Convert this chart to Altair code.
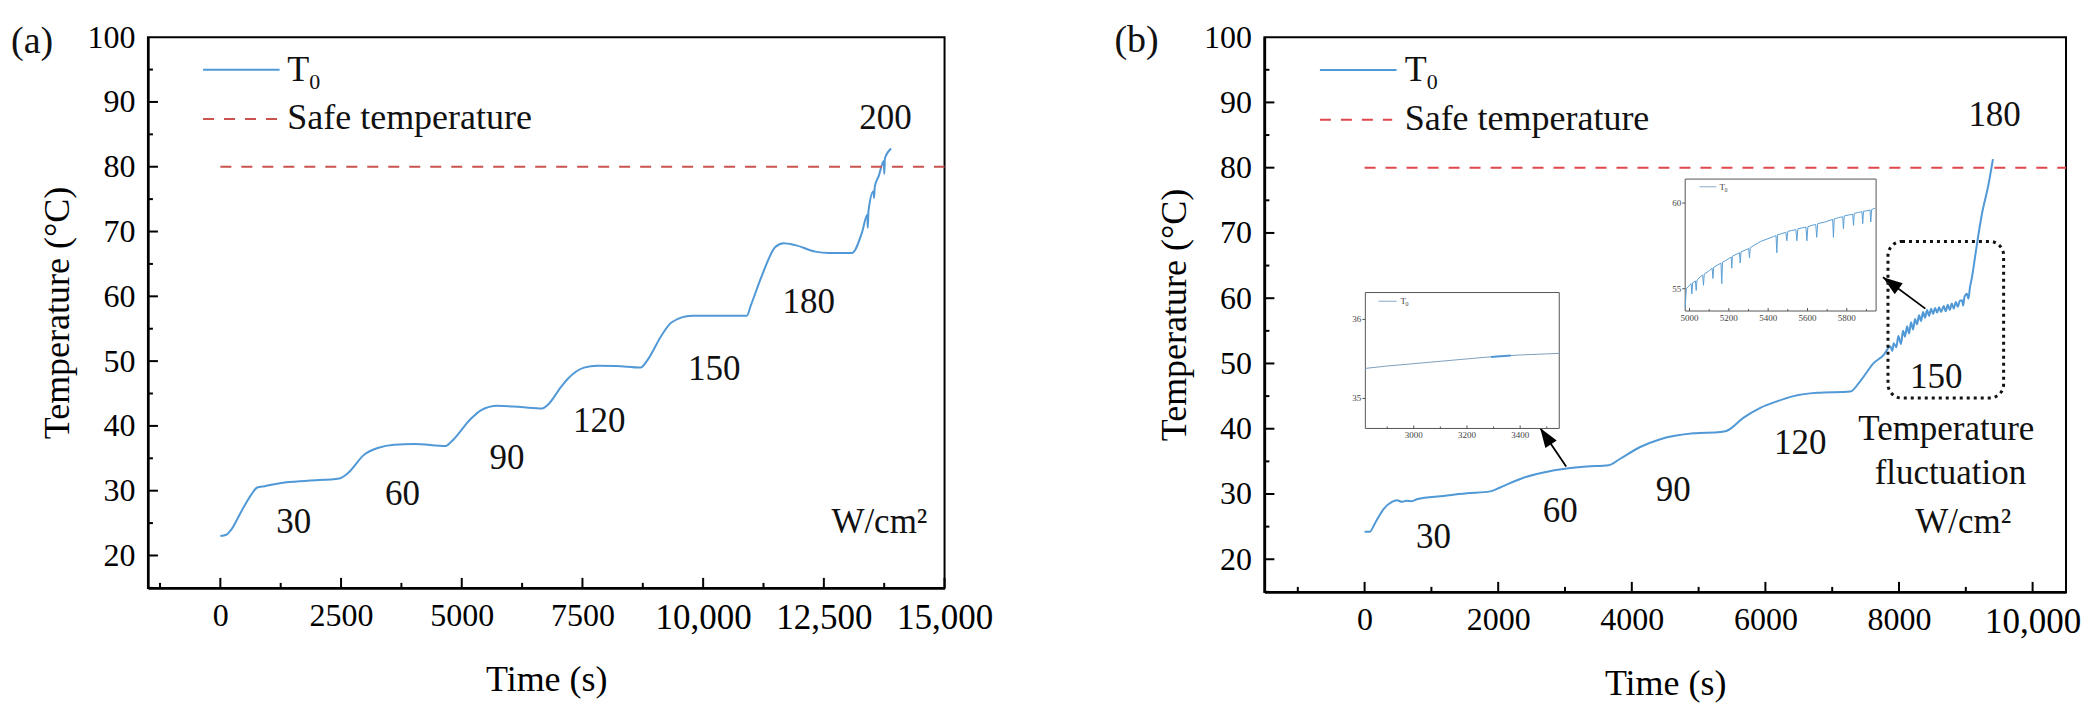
import altair as alt
import pandas as pd

SERIF = "Liberation Serif"
BLUE = "#5199d6"
RED_A = "#c9534f"
RED_B = "#e0474c"

# ---------------- panel (a) data ----------------
a_time = [0, 124, 227, 434, 641, 765, 917, 1261, 1813, 2467, 2640, 2984, 3260, 3604,
          4018, 4673, 4776, 5190, 5396, 5741, 6223, 6671, 6775, 7065, 7188, 7532, 7808,
          8200, 8704, 8850, 9141, 9349, 9764, 10300, 10906, 10988, 11217, 11494, 11667,
          11908, 12323, 12600, 13084, 13292, 13400, 13410, 13425, 13530, 13540, 13555,
          13638, 13742, 13752, 13765, 13894]
a_temp = [23.0, 23.2, 24.0, 26.8, 29.4, 30.5, 30.7, 31.2, 31.55, 31.9, 32.7, 35.6, 36.6, 37.1,
          37.2, 36.9, 37.5, 41.1, 42.4, 43.1, 42.9, 42.7, 43.2, 46.1, 47.2, 49.0, 49.3,
          49.25, 49.0, 50.2, 54.0, 56.0, 57.0, 57.0, 57.0, 58.6, 63.2, 67.6, 68.2,
          67.9, 66.9, 66.7, 66.7, 69.9, 72.6, 70.6, 73.2, 76.2, 75.2, 76.9,
          78.6, 80.9, 78.9, 81.3, 82.8]

a_ann_text = ["30", "60", "90", "120", "150", "180", "200", "W/cm²"]
a_ann_x = [1520, 3773, 5936, 7847, 10231, 12185, 13776, 13650]
a_ann_y = [25.2, 29.5, 35.1, 40.8, 48.8, 59.2, 87.5, 25.2]

a_xmajor = [0, 2500, 5000, 7500, 10000, 12500, 15000]
a_xminor = [-1250, 1250, 3750, 6250, 8750, 11250, 13750]

# ---------------- panel (b) data ----------------
b_time = [0, 75, 160, 284, 409, 484, 559, 620, 708, 783, 1182, 1531, 1880, 2030, 2379, 2678,
          3027, 3327, 3651, 3826, 4125, 4427, 4925, 5325, 5425, 5674, 5924, 6173, 6423, 6772,
          7271, 7421, 7620, 7770, 7870, 7900, 7920, 7960, 7990, 8030, 8060, 8090, 8120, 8150,
          8180, 8210, 8240, 8270, 8300, 8330, 8360, 8390, 8420, 8450, 8480, 8510, 8540, 8570,
          8600, 8630, 8668, 8700, 8730, 8760, 8790, 8820, 8850, 8880, 8910, 8943, 8960, 8980,
          9017, 9040, 9060, 9092, 9167, 9241, 9341, 9406]
b_temp = [24.2, 24.2, 25.6, 27.7, 28.8, 29.05, 28.8, 28.95, 28.9, 29.2, 29.7, 30.1, 30.4, 31.0, 32.5, 33.3,
          33.9, 34.2, 34.4, 35.4, 37.2, 38.4, 39.3, 39.5, 39.7, 41.7, 43.2, 44.2, 45.0, 45.5,
          45.7, 47.3, 50.05, 51.3, 52.6, 51.9, 53.1, 52.5, 54.2, 53.0, 55.0, 54.1, 55.7, 54.6,
          56.3, 55.2, 56.8, 56.0, 57.4, 56.5, 57.9, 57.0, 58.2, 57.3, 58.4, 57.6, 58.5, 57.8,
          58.6, 57.9, 58.8, 58.0, 59.0, 58.2, 59.2, 58.4, 59.4, 58.7, 59.6, 59.7, 58.9, 60.2,
          60.7, 59.9, 61.5, 63.2, 68.3, 72.9, 77.5, 81.3]

b_ann_text = ["30", "60", "90", "120", "150", "180", "Temperature", "fluctuation", "W/cm²"]
b_ann_x = [1032, 2928, 4620, 6520, 8558, 9431, 8708, 8770, 8963]
b_ann_y = [23.4, 27.4, 30.6, 37.8, 48.0, 88.1, 39.9, 33.2, 25.7]

b_xmajor = [0, 2000, 4000, 6000, 8000, 10000]
b_xminor = [-1000, 1000, 3000, 5000, 7000, 9000]

# arrows (tail -> head) in panel (b) data coordinates
arr_x = [3017, 8394]
arr_y = [34.2, 58.4]
arr_x2 = [2628, 7760]
arr_y2 = [40.1, 63.2]
arr_angle = [326, 306]

# dotted box around the fluctuation region
box_x = [7835]
box_x2 = [9566]
box_y = [44.7]
box_y2 = [68.7]

# ---------------- inset 1 ----------------
i1_time = [2818, 2900, 3000, 3100, 3200, 3300, 3400, 3547]
i1_temp = [35.38, 35.41, 35.44, 35.47, 35.50, 35.53, 35.55, 35.57]
i1_hl_time = [3290, 3365]
i1_hl_temp = [35.525, 35.542]
i1_xdom = [2818, 3547]
i1_ydom = [34.62, 36.34]
i1_xmajor = [3000, 3200, 3400]
i1_xminor = [2900, 3100, 3300, 3500]
i1_ylab = [36, 35]

# ---------------- inset 2 ----------------
i2_time = [4978, 4981, 4984, 5000, 5008, 5012, 5016, 5030, 5034, 5038, 5042, 5060, 5067, 5071, 5075,
           5100, 5115, 5119, 5123, 5145, 5160, 5164, 5168, 5185, 5205, 5212, 5215, 5218, 5245,
           5254, 5258, 5262, 5292, 5301, 5305, 5309, 5360, 5428, 5440, 5444, 5448, 5465, 5490,
           5495, 5500, 5520, 5541, 5546, 5551, 5572, 5592, 5597, 5602, 5622, 5642, 5647, 5652,
           5690, 5715, 5728, 5732, 5736, 5758, 5779, 5783, 5787, 5808, 5830, 5834, 5838, 5859,
           5877, 5881, 5885, 5902, 5918, 5922, 5926, 5944]
i2_temp = [53.9, 54.5, 55.0, 55.2, 55.3, 54.7, 55.35, 55.45, 54.9, 55.5, 55.55, 55.75, 55.8, 55.2, 55.85,
           56.05, 56.2, 55.6, 56.25, 56.4, 56.5, 55.3, 56.55, 56.65, 56.8, 56.85, 56.2, 56.9, 57.05,
           57.1, 56.5, 57.15, 57.3, 57.35, 56.8, 57.4, 57.75, 58.05, 58.1, 57.1, 58.15, 58.2, 58.3,
           57.8, 58.35, 58.4, 58.45, 57.8, 58.5, 58.55, 58.6, 57.8, 58.62, 58.7, 58.75, 58.0, 58.8,
           58.9, 59.0, 59.05, 58.0, 59.08, 59.15, 59.2, 58.5, 59.25, 59.3, 59.35, 58.7, 59.4, 59.45,
           59.5, 58.8, 59.52, 59.55, 59.6, 58.9, 59.62, 59.7]
i2_xdom = [4978, 5949]
i2_ydom = [53.7, 61.4]
i2_xmajor = [5000, 5200, 5400, 5600, 5800]
i2_xminor = [5100, 5300, 5500, 5700, 5900]
i2_ylab = [60, 55]

y_major = [20, 30, 40, 50, 60, 70, 80, 90]
y_minor = [15, 25, 35, 45, 55, 65, 75, 85, 95]
y_labels = [20, 30, 40, 50, 60, 70, 80, 90, 100]

assert len(a_time) == len(a_temp)
assert len(b_time) == len(b_temp)
assert len(i2_time) == len(i2_temp)


def make_encoders(xdom, xmajor):
    xs = alt.Scale(domain=xdom, nice=False, zero=False)
    ys = alt.Scale(domain=[15, 100], nice=False, zero=False)
    xaxis = alt.Axis(values=xmajor, ticks=False, grid=False, domain=True, domainColor="black",
                     domainWidth=2.5, labelFont=SERIF,
                     labelFontSize={"condition": {"test": "datum.value >= 10000", "value": 35}, "value": 32},
                     labelColor="black",
                     labelPadding=13, labelFlush=False, labelOverlap=False,
                     labelExpr="datum.value >= 10000 ? format(datum.value, ',') : format(datum.value, 'd')",
                     title="Time (s)", titleFont=SERIF, titleFontSize=36, titleFontWeight="normal",
                     titleColor="black", titlePadding=27)
    yaxis = alt.Axis(values=y_labels, ticks=False, grid=False, domain=True, domainColor="black",
                     domainWidth=2.5, labelFont=SERIF, labelFontSize=32, labelColor="black",
                     labelPadding=13, labelFlush=False, labelOverlap=False,
                     title="Temperature (°C)", titleFont=SERIF, titleFontSize=36,
                     titleFontWeight="normal", titleColor="black", titlePadding=10)

    def X(f="x"):
        return alt.X(f + ":Q", scale=xs, axis=xaxis, title="Time (s)")

    def Y(f="y"):
        return alt.Y(f + ":Q", scale=ys, axis=yaxis, title="Temperature (°C)")

    return X, Y


def main_group(X, Y, time, temp, xdom, xmajor, xminor, H, red, ann_t, ann_x, ann_y,
               leg_x0, leg_x1, leg_dash_x1, leg_tx, safe_x0, plabel, pdx, pdy):
    line = alt.Chart(pd.DataFrame({"x": time, "y": temp})).mark_line(
        color=BLUE, strokeWidth=2, interpolate="monotone").encode(x=X(), y=Y())

    safe = alt.Chart(pd.DataFrame({"x": [safe_x0], "x2": [xdom[1]], "y": [80]})).mark_rule(
        color=red, strokeWidth=2, strokeDash=[11, 10]).encode(x=X(), x2="x2:Q", y=Y())

    xt_major = alt.Chart(pd.DataFrame({"x": xmajor})).mark_rule(color="black", strokeWidth=2).encode(
        x=X(), y=alt.value(H), y2=alt.value(H - 10))
    xt_minor = alt.Chart(pd.DataFrame({"x": xminor})).mark_rule(color="black", strokeWidth=2).encode(
        x=X(), y=alt.value(H), y2=alt.value(H - 5))
    yt_major = alt.Chart(pd.DataFrame({"y": y_major})).mark_rule(color="black", strokeWidth=2).encode(
        y=Y(), x=alt.value(0), x2=alt.value(10))
    yt_minor = alt.Chart(pd.DataFrame({"y": y_minor})).mark_rule(color="black", strokeWidth=2).encode(
        y=Y(), x=alt.value(0), x2=alt.value(5))

    ann = alt.Chart(pd.DataFrame({"x": ann_x, "y": ann_y, "s": ann_t})).mark_text(
        font=SERIF, fontSize=35, color="#111", align="center", baseline="middle").encode(
        x=X(), y=Y(), text="s:N")

    leg_line = alt.Chart(pd.DataFrame({"x": [leg_x0], "x2": [leg_x1], "y": [94.95]})).mark_rule(
        color=BLUE, strokeWidth=2).encode(x=X(), x2="x2:Q", y=Y())
    leg_dash = alt.Chart(pd.DataFrame({"x": [leg_x0], "x2": [leg_dash_x1], "y": [87.35]})).mark_rule(
        color=red, strokeWidth=2, strokeDash=[11, 10]).encode(x=X(), x2="x2:Q", y=Y())
    leg_text = alt.Chart(pd.DataFrame({"x": [leg_tx, leg_tx], "y": [94.95, 87.45],
                                       "s": ["T", "Safe temperature"]})).mark_text(
        font=SERIF, fontSize=36, color="#111", align="left", baseline="middle").encode(
        x=X(), y=Y(), text="s:N")
    leg_sub = alt.Chart(pd.DataFrame({"x": [leg_tx], "y": [94.95], "s": ["0"]})).mark_text(
        font=SERIF, fontSize=22, color="#111", align="left", baseline="middle", dx=22, dy=12).encode(
        x=X(), y=Y(), text="s:N")

    plab = alt.Chart(pd.DataFrame({"s": [plabel]})).mark_text(
        font=SERIF, fontSize=38, color="#111", align="left", baseline="middle").encode(
        x=alt.value(pdx), y=alt.value(pdy), text="s:N")

    return [line, safe, xt_major, xt_minor, yt_major, yt_minor, ann,
            leg_line, leg_dash, leg_text, leg_sub, plab]


def inset_group(time, temp, xdom, ydom, box, xmajor, xminor, ylab, leg, color, extra=None):
    L, R, T, B = box
    xs = alt.Scale(domain=xdom, range=[L, R], nice=False, zero=False)
    ys = alt.Scale(domain=ydom, range=[B, T], nice=False, zero=False)

    def X(f="x"):
        return alt.X(f + ":Q", scale=xs, axis=None)

    def Y(f="y"):
        return alt.Y(f + ":Q", scale=ys, axis=None)

    frame = alt.Chart(pd.DataFrame({"a": [0]})).mark_rect(
        fill="white", stroke="#555", strokeWidth=1).encode(
        x=alt.value(L), x2=alt.value(R), y=alt.value(T), y2=alt.value(B))
    line = alt.Chart(pd.DataFrame({"x": time, "y": temp})).mark_line(
        color=color, strokeWidth=1).encode(x=X(), y=Y())
    xt1 = alt.Chart(pd.DataFrame({"x": xmajor})).mark_rule(color="#555", strokeWidth=1).encode(
        x=X(), y=alt.value(B), y2=alt.value(B - 3))
    xt2 = alt.Chart(pd.DataFrame({"x": xminor})).mark_rule(color="#555", strokeWidth=1).encode(
        x=X(), y=alt.value(B), y2=alt.value(B - 2))
    xl = alt.Chart(pd.DataFrame({"x": xmajor})).mark_text(
        font=SERIF, fontSize=9, color="#444", baseline="top", align="center").encode(
        x=X(), y=alt.value(B + 3), text=alt.Text("x:Q", format="d"))
    yt = alt.Chart(pd.DataFrame({"y": ylab})).mark_rule(color="#555", strokeWidth=1).encode(
        y=Y(), x=alt.value(L - 3), x2=alt.value(L))
    yl = alt.Chart(pd.DataFrame({"y": ylab})).mark_text(
        font=SERIF, fontSize=9, color="#444", baseline="middle", align="right").encode(
        y=Y(), x=alt.value(L - 4), text=alt.Text("y:Q", format="d"))
    lx0, lx1, ltx, ly = leg
    lline = alt.Chart(pd.DataFrame({"x": [lx0], "x2": [lx1], "y": [ly]})).mark_rule(
        color="#8aa8c8", strokeWidth=1).encode(x=X(), x2="x2:Q", y=Y())
    ltext = alt.Chart(pd.DataFrame({"x": [ltx], "y": [ly], "s": ["T"]})).mark_text(
        font=SERIF, fontSize=9, color="#444", align="left", baseline="middle").encode(
        x=X(), y=Y(), text="s:N")
    lsub = alt.Chart(pd.DataFrame({"x": [ltx], "y": [ly], "s": ["0"]})).mark_text(
        font=SERIF, fontSize=6, color="#444", align="left", baseline="middle", dx=5, dy=3).encode(
        x=X(), y=Y(), text="s:N")
    layers = [frame, line, xt1, xt2, xl, yt, yl, lline, ltext, lsub]
    if extra is not None:
        ex_t, ex_v = extra
        layers.append(alt.Chart(pd.DataFrame({"x": ex_t, "y": ex_v})).mark_line(
            color=BLUE, strokeWidth=2).encode(x=X(), y=Y()))
    return alt.layer(*layers)


# ---------------- panel (a) ----------------
WA, HA = 797, 551
XA, YA = make_encoders([-1500, 15000], a_xmajor)
pa_layers = main_group(XA, YA, a_time, a_temp, [-1500, 15000], a_xmajor, a_xminor, HA, RED_A,
                       a_ann_text, a_ann_x, a_ann_y, -358, 1227, 1196, 1386, 0, "(a)", -137, 5)
panel_a = alt.layer(*pa_layers).properties(width=WA, height=HA)

# ---------------- panel (b) ----------------
WB, HB = 802, 555
XB, YB = make_encoders([-1500, 10500], b_xmajor)
pb_layers = main_group(XB, YB, b_time, b_temp, [-1500, 10500], b_xmajor, b_xminor, HB, RED_B,
                       b_ann_text, b_ann_x, b_ann_y, -669, 478, 413, 600, 0, "(b)", -150, 4)

arrows_line = alt.Chart(pd.DataFrame({"x": arr_x, "y": arr_y, "x2": arr_x2, "y2": arr_y2})).mark_rule(
    color="black", strokeWidth=1.8).encode(x=XB(), y=YB(), x2="x2:Q", y2="y2:Q")
arrows_head = alt.Chart(pd.DataFrame({"x": arr_x2, "y": arr_y2, "a": arr_angle})).mark_point(
    shape="M0,0 L0.7,2 L-0.7,2 Z", filled=True, color="black", opacity=1, size=380).encode(
    x=XB(), y=YB(), angle=alt.Angle("a:Q", scale=None))
dotbox = alt.Chart(pd.DataFrame({"x": box_x, "x2": box_x2, "y": box_y, "y2": box_y2})).mark_rect(
    fillOpacity=0, stroke="#111", strokeWidth=3, strokeDash=[3, 4], cornerRadius=14).encode(
    x=XB(), y=YB(), x2="x2:Q", y2="y2:Q")

pb_main = alt.layer(*pb_layers, arrows_line, arrows_head, dotbox)

ins1 = inset_group(i1_time, i1_temp, i1_xdom, i1_ydom, (101, 295, 255.5, 391.5),
                   i1_xmajor, i1_xminor, i1_ylab, (2867, 2936, 2950, 36.23), "#7f9fbf",
                   extra=(i1_hl_time, i1_hl_temp))
ins2 = inset_group(i2_time, i2_temp, i2_xdom, i2_ydom, (421, 612, 142, 274),
                   i2_xmajor, i2_xminor, i2_ylab, (5051, 5136, 5153, 60.95), "#5a9fd4")

panel_b = alt.layer(pb_main, ins1, ins2).resolve_scale(
    x="independent", y="independent").properties(width=WB, height=HB)

chart = alt.hconcat(panel_a, panel_b, spacing=320, bounds="flush").properties(
    padding={"left": 2, "top": 12, "right": 5, "bottom": 5}
).configure_view(stroke="black", strokeWidth=2)

chart.save("out.html", embed_options={"renderer": "svg", "actions": False})
